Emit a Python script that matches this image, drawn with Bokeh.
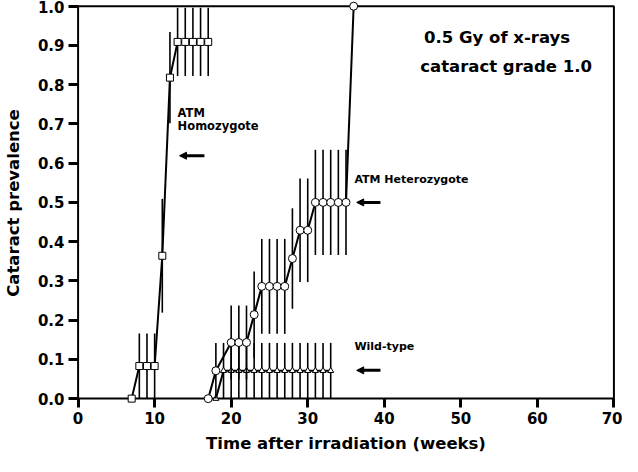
from bokeh.plotting import figure
from bokeh.models import Range1d, FixedTicker, BoxAnnotation, Label, Arrow, NormalHead, NumeralTickFormatter
from bokeh.embed import file_html
from bokeh.resources import INLINE

# ---- data ----
hom_weeks = [7, 8, 9, 10, 11, 12, 13, 14, 15, 16, 17]
hom_prev = [0.0, 0.083, 0.083, 0.083, 0.364, 0.818, 0.909, 0.909, 0.909, 0.909, 0.909]
hom_err = [0.0, 0.083, 0.083, 0.083, 0.145, 0.116, 0.087, 0.087, 0.087, 0.087, 0.087]

het_weeks = [17, 18, 20, 21, 22, 23, 24, 25, 26, 27, 28, 29, 30, 31, 32, 33, 34, 35, 36]
het_prev = [0.0, 0.071, 0.143, 0.143, 0.143, 0.214, 0.286, 0.286, 0.286, 0.286, 0.357,
            0.429, 0.429, 0.5, 0.5, 0.5, 0.5, 0.5, 1.0]
het_err = [0.0, 0.071, 0.094, 0.094, 0.094, 0.110, 0.121, 0.121, 0.121, 0.121, 0.128,
           0.132, 0.132, 0.134, 0.134, 0.134, 0.134, 0.134, 0.0]

wt_weeks = [18, 19, 20, 21, 22, 23, 24, 25, 26, 27, 28, 29, 30, 31, 32, 33]
wt_prev = [0.0, 0.071, 0.071, 0.071, 0.071, 0.071, 0.071, 0.071, 0.071, 0.071, 0.071,
           0.071, 0.071, 0.071, 0.071, 0.071]
wt_err = [0.0, 0.071, 0.071, 0.071, 0.071, 0.071, 0.071, 0.071, 0.071, 0.071, 0.071,
          0.071, 0.071, 0.071, 0.071, 0.071]

x_ticks = [0, 10, 20, 30, 40, 50, 60, 70]
y_ticks = [0.0, 0.1, 0.2, 0.3, 0.4, 0.5, 0.6, 0.7, 0.8, 0.9, 1.0]

FONT = "DejaVu Sans"

p = figure(width=622, height=456, output_backend="svg", toolbar_location=None,
           x_range=Range1d(-0.6, 70.6), y_range=Range1d(-0.015, 1.012),
           min_border_left=71, min_border_right=4, min_border_top=1, min_border_bottom=52)
p.outline_line_color = None
p.xgrid.visible = False
p.ygrid.visible = False
p.background_fill_color = "white"
p.border_fill_color = "white"

# axes box: x 0..70, y 0..1
p.add_layout(BoxAnnotation(left=0, right=70, bottom=0, top=1.0, fill_color=None,
                           fill_alpha=0, line_color="black", line_alpha=1.0,
                           line_width=2, level="underlay"))

for ax in (p.xaxis[0], p.yaxis[0]):
    ax.axis_line_color = None
    ax.major_tick_line_width = 3
    ax.major_tick_line_color = "black"
    ax.minor_tick_line_color = None
    ax.major_label_text_font = FONT
    ax.major_label_text_font_style = "bold"
    ax.major_label_text_font_size = "15px"
    ax.major_label_text_color = "black"
    ax.axis_label_text_font = FONT
    ax.axis_label_text_font_style = "bold"
    ax.axis_label_text_font_size = "16.5px"
    ax.axis_label_text_color = "black"

p.xaxis.ticker = FixedTicker(ticks=x_ticks)
p.xaxis.major_tick_in = 6
p.xaxis.major_tick_out = 3
p.xaxis.major_label_standoff = 4
p.xaxis.axis_label = "Time after irradiation (weeks)"
p.xaxis.axis_label_standoff = 7

p.yaxis.ticker = FixedTicker(ticks=y_ticks)
p.yaxis.formatter = NumeralTickFormatter(format="0.0")
p.yaxis.major_tick_in = 5
p.yaxis.major_tick_out = 5
p.yaxis.major_label_standoff = 4
p.yaxis.axis_label = "Cataract prevalence"
p.yaxis.axis_label_standoff = 12


def series(xs, ys, es, marker, size):
    bx = [x for x, e in zip(xs, es) if e > 0]
    lo = [y - e for y, e in zip(ys, es) if e > 0]
    hi = [y + e for y, e in zip(ys, es) if e > 0]
    p.segment(x0=bx, y0=lo, x1=bx, y1=hi, line_color="black", line_width=1.6, level="overlay")
    p.line(xs, ys, line_color="black", line_width=2, level="overlay")
    p.scatter(xs, ys, marker=marker, size=size, fill_color="white",
              line_color="black", line_width=1, level="overlay")


series(wt_weeks, wt_prev, wt_err, "triangle", 6)
series(het_weeks, het_prev, het_err, "circle", 8)
series(hom_weeks, hom_prev, hom_err, "square", 7)


def lab(x, y, text, size):
    p.add_layout(Label(x=x, y=y, text=text, text_font=FONT, text_font_style="bold",
                       text_font_size=size, text_color="black"))


def arrow(xs, xe, y):
    p.add_layout(Arrow(end=NormalHead(size=7, fill_color="black", line_color="black"),
                       x_start=xs, y_start=y, x_end=xe, y_end=y,
                       line_color="black", line_width=3))


lab(45.2, 0.896, "0.5 Gy of x-rays", "16.5px")
lab(44.7, 0.822, "cataract grade 1.0", "16.5px")
lab(13.0, 0.71, "ATM", "11.5px")
lab(13.0, 0.676, "Homozygote", "11.5px")
lab(36.1, 0.542, "ATM Heterozygote", "11px")
lab(36.1, 0.115, "Wild-type", "11px")
arrow(16.5, 13.25, 0.619)
arrow(39.5, 36.4, 0.50)
arrow(39.5, 36.4, 0.072)

open("out.html", "w").write(file_html(p, INLINE))
